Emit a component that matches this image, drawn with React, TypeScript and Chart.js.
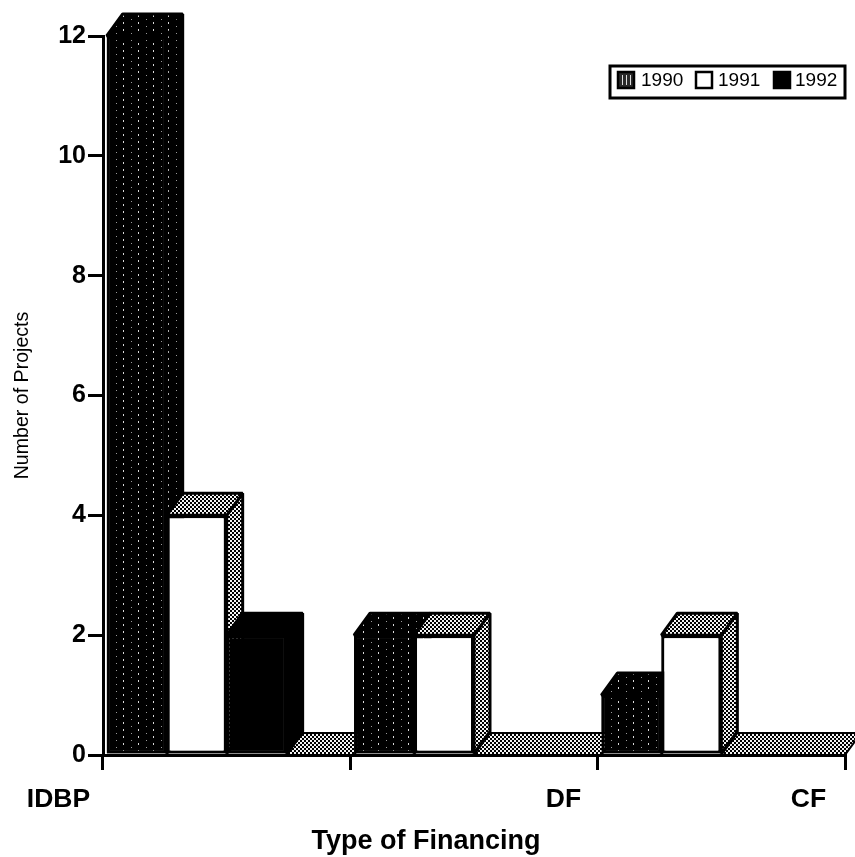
import React, { useEffect, useRef } from "react";
import { Chart, registerables } from "chart.js";

Chart.register(...registerables);

const categories = ["IDBP", "DF", "CF"];
const seriesNames = ["1990", "1991", "1992"];
const values1990 = [12, 2, 1];
const values1991 = [4, 2, 2];
const values1992 = [2, 0, 0];
const floorSlot = [0, 0, 0];
const yTickStep = 2;
const yMax = 12;
const xTitle = "Type of Financing";
const yTitle = "Number of Projects";

const FONT = "'Liberation Sans', Arial, sans-serif";
const DX = 16;
const DY = 22;
const LABEL_X = [58.5, 563.5, 808.5];

function makePattern(draw: (c: CanvasRenderingContext2D) => void, w: number, h: number) {
  const cv = document.createElement("canvas");
  cv.width = w;
  cv.height = h;
  const c = cv.getContext("2d")!;
  draw(c);
  return c.createPattern(cv, "repeat")!;
}

export default function App() {
  const ref = useRef<HTMLCanvasElement>(null);
  useEffect(() => {
    const canvas = ref.current!;
    const dither = makePattern((c) => {
      c.fillStyle = "#f4f4f4";
      c.fillRect(0, 0, 4, 4);
      c.fillStyle = "#000";
      c.fillRect(0, 0, 2, 2);
      c.fillRect(2, 2, 2, 2);
    }, 4, 4);
    const stipple = makePattern((c) => {
      c.fillStyle = "#000";
      c.fillRect(0, 0, 15, 14);
      c.fillStyle = "#d8d8d8";
      c.fillRect(3, 1, 1, 2);
      c.fillRect(3, 8, 1, 2);
      c.fillStyle = "#9a9a9a";
      c.fillRect(11, 5, 1, 1);
      c.fillRect(11, 12, 1, 1);
    }, 15, 14);
    const fronts = [stipple, "#ffffff", "#000000"];

    const poly = (ctx: CanvasRenderingContext2D, pts: number[][], fill: any, lw = 3) => {
      ctx.beginPath();
      pts.forEach((p, i) => (i ? ctx.lineTo(p[0], p[1]) : ctx.moveTo(p[0], p[1])));
      ctx.closePath();
      ctx.fillStyle = fill;
      ctx.fill();
      ctx.lineJoin = "bevel";
      ctx.lineWidth = lw;
      ctx.strokeStyle = "#000";
      ctx.stroke();
    };

    const threeD = {
      id: "threeD",
      afterDatasetsDraw(chart: any) {
        const ctx: CanvasRenderingContext2D = chart.ctx;
        const y0 = chart.scales.y.getPixelForValue(0);
        const area = chart.chartArea;
        ctx.save();
        categories.forEach((_, g) => {
          let first = 0;
          for (let d = 0; d < 3; d++) if (chart.data.datasets[d].data[g] > 0) first = d + 1;
          const el = chart.getDatasetMeta(first).data[g];
          const start = el.x - el.width / 2;
          const next = chart.getDatasetMeta(0).data[g + 1];
          const end = next ? next.x - next.width / 2 : area.right;
          poly(ctx, [[start, y0], [start + DX, y0 - DY], [end + DX, y0 - DY], [end, y0]], dither, 2);
        });
        for (let d = 0; d < 3; d++) {
          const meta = chart.getDatasetMeta(d);
          meta.data.forEach((el: any, g: number) => {
            if (!(chart.data.datasets[d].data[g] > 0)) return;
            const l = el.x - el.width / 2;
            const r = el.x + el.width / 2;
            const t = el.y;
            const b = el.base;
            const topFill = d === 1 ? dither : fronts[d];
            const sideFill = d === 1 ? dither : fronts[d];
            poly(ctx, [[r, t], [r + DX, t - DY], [r + DX, b - DY], [r, b]], sideFill);
            poly(ctx, [[l, t], [l + DX, t - DY], [r + DX, t - DY], [r, t]], topFill);
            el.draw(ctx);
          });
        }
        ctx.restore();
      },
    };

    const annotations = {
      id: "annotations",
      afterDraw(chart: any) {
        const ctx: any = chart.ctx;
        ctx.save();
        ctx.fillStyle = "#000";
        ctx.textAlign = "center";
        ctx.textBaseline = "alphabetic";
        ctx.font = `bold 26.5px ${FONT}`;
        categories.forEach((c, i) => ctx.fillText(c, LABEL_X[i], 807));
        ctx.font = `bold 27px ${FONT}`;
        ctx.fillText(xTitle, 426, 849);
        // legend
        ctx.lineWidth = 3;
        ctx.strokeStyle = "#000";
        ctx.fillStyle = "#fff";
        ctx.fillRect(610, 66, 235, 32);
        ctx.strokeRect(610, 66, 235, 32);
        const swatchX = [618, 696, 774];
        const textX = [641, 718, 795];
        ctx.font = `19px ${FONT}`;
        ctx.textAlign = "left";
        ctx.textBaseline = "middle";
        seriesNames.forEach((n, i) => {
          ctx.fillStyle = i === 0 ? "#2a2a2a" : (fronts[i] as string);
          ctx.fillRect(swatchX[i], 72, 16, 16);
          ctx.lineWidth = 2.5;
          ctx.strokeRect(swatchX[i], 72, 16, 16);
          if (i === 0) {
            ctx.fillStyle = "#ddd";
            [622, 626, 630].forEach((x) => ctx.fillRect(x, 75, 1, 10));
          }
          ctx.fillStyle = "#000";
          ctx.fillText(n, textX[i], 81);
        });
        ctx.restore();
      },
    };

    const barStyle = (fill: any) => ({
      backgroundColor: fill,
      borderColor: "#000",
      borderWidth: 3,
      borderSkipped: false as const,
      barPercentage: 1,
      categoryPercentage: 0.97,
    });

    const chart = new Chart(canvas, {
      type: "bar",
      data: {
        labels: categories,
        datasets: [
          { label: seriesNames[0], data: values1990, ...barStyle(stipple) },
          { label: seriesNames[1], data: values1991, ...barStyle("#ffffff") },
          { label: seriesNames[2], data: values1992, ...barStyle("#000000") },
          { label: "", data: floorSlot, ...barStyle("rgba(0,0,0,0)") },
        ],
      },
      options: {
        responsive: false,
        animation: false,
        devicePixelRatio: 1,
        layout: { padding: { top: 36, right: 10, left: 0, bottom: 0 } },
        plugins: { legend: { display: false }, tooltip: { enabled: false } },
        scales: {
          x: {
            afterFit: (s: any) => { s.height = 102; },
            border: { color: "#000", width: 3 },
            grid: { drawOnChartArea: false, color: "#000", lineWidth: 3, tickLength: 15, tickColor: "#000" },
            ticks: { display: false },
          },
          y: {
            min: 0,
            max: yMax,
            afterFit: (s: any) => { s.width = 103; },
            border: { color: "#000", width: 3 },
            grid: { drawOnChartArea: false, color: "#000", lineWidth: 3, tickLength: 15, tickColor: "#000" },
            title: {
              display: true,
              text: yTitle,
              color: "#000",
              padding: { top: 11, bottom: 0 },
              font: { family: FONT, size: 19.6, weight: "normal" },
            },
            ticks: {
              stepSize: yTickStep,
              color: "#000",
              padding: 2,
              font: { family: FONT, size: 25, weight: "bold" },
            },
          },
        },
      },
      plugins: [threeD, annotations],
    } as any);
    return () => chart.destroy();
  }, []);
  return (
    <canvas
      ref={ref}
      width={855}
      height={857}
      style={{ position: "absolute", left: 0, top: 0, display: "block", background: "#fff" }}
    />
  );
}
